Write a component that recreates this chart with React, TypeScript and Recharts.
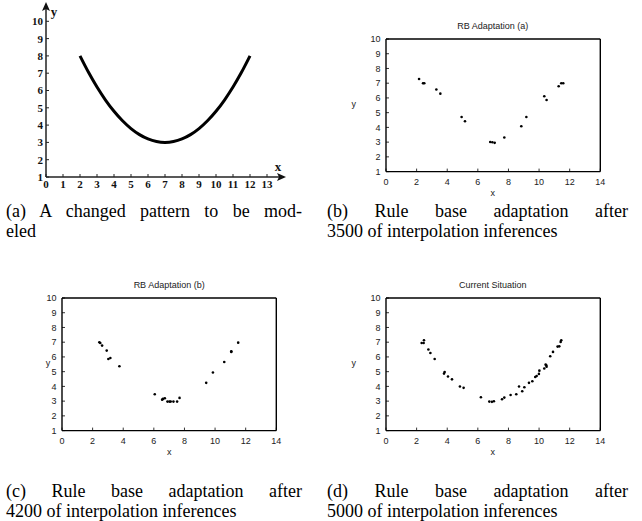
import React from 'react';
import { ComposedChart, ScatterChart, Scatter, Line, XAxis, YAxis, ReferenceDot } from 'recharts';

// (a) changed pattern
const patternX = [2, 2.5, 3, 3.5, 4, 4.5, 5, 5.5, 6, 6.5, 7, 7.5, 8, 8.5, 9, 9.5, 10, 10.5, 11, 11.5, 12];
const patternY = [8.0, 7.05, 6.2, 5.45, 4.8, 4.25, 3.8, 3.45, 3.2, 3.05, 3.0, 3.05, 3.2, 3.45, 3.8, 4.25, 4.8, 5.45, 6.2, 7.05, 8.0];
const patternXTicks = [0, 1, 2, 3, 4, 5, 6, 7, 8, 9, 10, 11, 12, 13];
const patternYTicks = [1, 2, 3, 4, 5, 6, 7, 8, 9, 10];

// (b) RB Adaptation (a)
const rbaX = [2.16, 2.42, 2.5, 3.29, 3.55, 4.94, 5.16, 6.81, 6.95, 7.1, 7.73, 8.84, 9.17, 10.34, 10.49, 11.28, 11.45, 11.58];
const rbaY = [7.29, 7.0, 7.0, 6.57, 6.29, 4.71, 4.42, 3.01, 2.99, 2.95, 3.31, 4.08, 4.71, 6.11, 5.86, 6.79, 7.0, 7.0];

// (c) RB Adaptation (b)
const rbbX = [2.44, 2.5, 2.62, 2.92, 3.03, 3.16, 3.75, 6.06, 6.54, 6.6, 6.72, 6.89, 7.02, 7.1, 7.28, 7.52, 7.68, 9.42, 9.86, 10.6, 11.06, 11.06, 11.51];
const rbbY = [7.0, 6.95, 6.77, 6.43, 5.86, 5.93, 5.37, 3.47, 3.1, 3.15, 3.2, 2.97, 2.97, 2.97, 2.97, 2.97, 3.22, 4.24, 4.94, 5.66, 6.34, 6.38, 6.97];

// (d) Current Situation
const curX = [2.33, 2.46, 2.48, 2.77, 2.9, 3.18, 3.79, 3.83, 4.05, 4.31, 4.83, 5.07, 6.2, 6.75, 6.92, 7.05, 7.58, 7.73, 8.14, 8.51, 8.69, 8.9, 9.04, 9.34, 9.56, 9.75, 9.84, 9.99, 10.02, 10.34, 10.43, 10.47, 10.49, 10.73, 10.91, 11.21, 11.32, 11.41, 11.45];
const curY = [6.95, 6.95, 7.13, 6.5, 6.27, 5.86, 4.87, 4.98, 4.67, 4.48, 3.99, 3.9, 3.26, 2.97, 2.95, 2.99, 3.13, 3.24, 3.42, 3.47, 3.99, 3.67, 3.94, 4.24, 4.35, 4.64, 4.71, 4.85, 5.07, 5.21, 5.48, 5.44, 5.33, 6.05, 6.34, 6.7, 6.72, 7.02, 7.13];

const gnuXTicks = [0, 2, 4, 6, 8, 10, 12, 14];
const gnuYTicks = [1, 2, 3, 4, 5, 6, 7, 8, 9, 10];

const SERIF = '"Liberation Serif", "Times New Roman", Times, serif';
const SANS = '"Liberation Sans", Arial, Helvetica, sans-serif';

const ArrowRight = (p: any) => (
  <g>
    <path d={`M${p.cx + 2},${p.cy} L${p.cx - 7},${p.cy - 4} L${p.cx - 5},${p.cy} L${p.cx - 7},${p.cy + 4} Z`} fill="#111" />
    <text x={p.cx - 6} y={p.cy - 6} fontFamily={SERIF} fontWeight="bold" fontSize={13} fill="#111" textAnchor="middle">x</text>
  </g>
);
const ArrowUp = (p: any) => (
  <g>
    <path d={`M${p.cx},${p.cy - 2} L${p.cx - 4},${p.cy + 7} L${p.cx},${p.cy + 5} L${p.cx + 4},${p.cy + 7} Z`} fill="#111" />
    <text x={p.cx + 8} y={p.cy + 12} fontFamily={SERIF} fontWeight="bold" fontSize={13} fill="#111" textAnchor="middle">y</text>
  </g>
);

function PanelA() {
  const data = patternX.map((x, i) => ({ x, y: patternY[i] }));
  const tick = { fontFamily: SERIF, fontWeight: 'bold', fontSize: 11, fill: '#111' } as any;
  return (
    <div style={{ position: 'absolute', left: 0, top: 0 }}>
      <ComposedChart width={300} height={200} data={data} margin={{ top: 4, right: 16, bottom: 3, left: 6 }}>
        <XAxis dataKey="x" type="number" domain={[0, 14]} ticks={patternXTicks} interval={0} height={20}
          axisLine={{ stroke: '#222', strokeWidth: 1.5 }} tickLine={{ stroke: '#222' }} tickSize={-3} tickMargin={6} tick={tick} allowDataOverflow />
        <YAxis type="number" domain={[1, 11]} ticks={patternYTicks} interval={0} width={40}
          axisLine={{ stroke: '#222', strokeWidth: 1.5 }} tickLine={{ stroke: '#222' }} tickSize={-3} tickMargin={6} tick={tick} allowDataOverflow />
        <Line dataKey="y" type="monotone" stroke="#000" strokeWidth={3} dot={false} isAnimationActive={false} />
        <ReferenceDot x={14} y={1} r={3} shape={ArrowRight} ifOverflow="visible" />
        <ReferenceDot x={0} y={11} r={3} shape={ArrowUp} ifOverflow="visible" />
      </ComposedChart>
    </div>
  );
}

const Dot = (p: any) => <circle cx={p.cx} cy={p.cy} r={1.3} fill="#000" />;

const BOX_L = 56;
const BOX_T = 30;
const BOX_W = 214.3;
const BOX_H = 132.6;

function GnuPanel({ left, top, xs, ys, title, yLabelOffset }: { left: number; top: number; xs: number[]; ys: number[]; title: string; yLabelOffset: number }) {
  const data = xs.map((x, i) => ({ x, y: ys[i] }));
  const W = 290;
  const H = 200;
  const tick = { fontFamily: SANS, fontSize: 9, fill: '#222' } as any;
  const line = { stroke: '#000', strokeWidth: 1.4 };
  const tl = { stroke: '#000', strokeWidth: 0.8 };
  return (
    <div style={{ position: 'absolute', left, top, width: W, height: H }}>
      <ScatterChart width={W} height={H}
        margin={{ top: BOX_T - 1, left: BOX_L - 26, right: W - BOX_L - BOX_W - 1, bottom: H - BOX_T - BOX_H - 20 }}>
        <XAxis xAxisId="b" dataKey="x" type="number" domain={[0, 14]} ticks={gnuXTicks} interval={0} height={20}
          axisLine={line} tickLine={tl} tickSize={-3} tickMargin={10.2} tick={tick} allowDataOverflow />
        <XAxis xAxisId="t" orientation="top" type="number" domain={[0, 14]} ticks={gnuXTicks} interval={0} height={1}
          axisLine={line} tickLine={tl} tickSize={-3} tick={false} allowDataOverflow />
        <YAxis yAxisId="l" dataKey="y" type="number" domain={[1, 10]} ticks={gnuYTicks} interval={0} width={26}
          axisLine={line} tickLine={tl} tickSize={-3} tickMargin={8.5} tick={tick} allowDataOverflow />
        <YAxis yAxisId="r" orientation="right" type="number" domain={[1, 10]} ticks={gnuYTicks} interval={0} width={1}
          axisLine={line} tickLine={tl} tickSize={-3} tick={false} allowDataOverflow />
        <Scatter xAxisId="b" yAxisId="l" data={data} dataKey="y" shape={Dot} isAnimationActive={false} />
      </ScatterChart>
      <div style={{ position: 'absolute', left: BOX_L, width: BOX_W, top: BOX_T - 18, textAlign: 'center', fontFamily: SANS, fontSize: 9, lineHeight: '10px', color: '#222' }}>{title}</div>
      <div style={{ position: 'absolute', left: BOX_L, width: BOX_W, top: BOX_T + BOX_H + 17, textAlign: 'center', fontFamily: SANS, fontSize: 9, lineHeight: '10px', color: '#222' }}>x</div>
      <div style={{ position: 'absolute', left: BOX_L - yLabelOffset - 10, width: 20, top: BOX_T + BOX_H / 2 - 6, textAlign: 'center', fontFamily: SANS, fontSize: 9, lineHeight: '10px', color: '#222' }}>y</div>
    </div>
  );
}

function Caption({ left, top, width, line1, line2 }: { left: number; top: number; width: number; line1: string; line2: string }) {
  const base = { fontFamily: SERIF, fontSize: 18, lineHeight: '20px', color: '#000', whiteSpace: 'nowrap' } as any;
  return (
    <div style={{ position: 'absolute', left, top, width }}>
      <div style={{ ...base, textAlign: 'justify', textAlignLast: 'justify', whiteSpace: 'normal' }}>{line1}</div>
      <div style={base}>{line2}</div>
    </div>
  );
}

export default function App() {
  return (
    <div style={{ position: 'absolute', left: 0, top: 0, width: 642, height: 521, background: '#fff', overflow: 'hidden' }}>
      <PanelA />
      <GnuPanel left={385.7 - BOX_L} top={38.7 - BOX_T} xs={rbaX} ys={rbaY} title="RB Adaptation (a)" yLabelOffset={32} />
      <GnuPanel left={62 - BOX_L} top={297.7 - BOX_T} xs={rbbX} ys={rbbY} title="RB Adaptation (b)" yLabelOffset={14} />
      <GnuPanel left={385.7 - BOX_L} top={297.7 - BOX_T} xs={curX} ys={curY} title="Current Situation" yLabelOffset={32} />
      <Caption left={6} top={201} width={296} line1="(a) A changed pattern to be mod-" line2="eled" />
      <Caption left={327} top={201} width={301} line1="(b) Rule base adaptation after" line2="3500 of interpolation inferences" />
      <Caption left={6} top={481} width={296} line1="(c) Rule base adaptation after" line2="4200 of interpolation inferences" />
      <Caption left={327} top={481} width={301} line1="(d) Rule base adaptation after" line2="5000 of interpolation inferences" />
    </div>
  );
}
